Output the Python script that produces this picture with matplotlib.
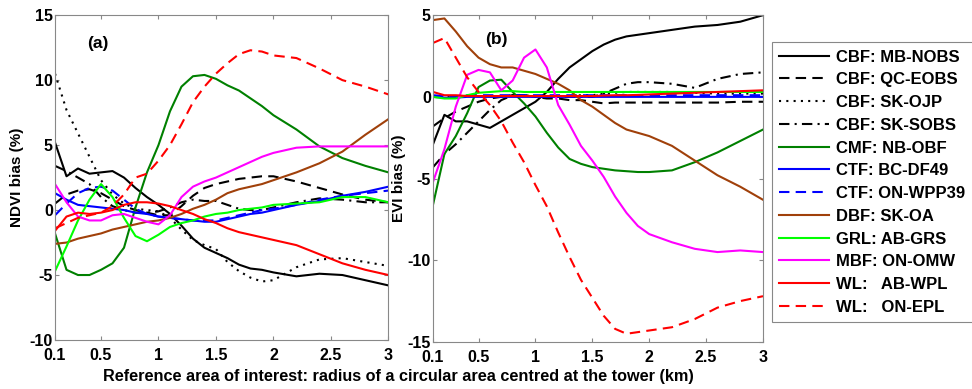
import matplotlib
matplotlib.use("Agg")
import matplotlib.pyplot as plt
import numpy as np

plt.rcParams['font.family'] = ['Liberation Sans', 'DejaVu Sans']
plt.rcParams['font.weight'] = 'bold'
plt.rcParams['axes.unicode_minus'] = False

# radius of reference area (km)
radius = [0.1, 0.2, 0.3, 0.4, 0.5, 0.6, 0.7, 0.8, 0.9, 1.0, 1.1, 1.2, 1.3,
          1.4, 1.5, 1.6, 1.7, 1.8, 1.9, 2.0, 2.2, 2.4, 2.6, 2.8, 3.0]

sites = ["CBF: MB-NOBS", "CBF: QC-EOBS", "CBF: SK-OJP", "CBF: SK-SOBS",
         "CMF: NB-OBF", "CTF: BC-DF49", "CTF: ON-WPP39", "DBF: SK-OA",
         "GRL: AB-GRS", "MBF: ON-OMW", "WL:   AB-WPL", "WL:   ON-EPL"]

# NDVI bias (%) - panel (a)
ndvi_mb_nobs = [5.2, 2.6, 3.2, 2.8, 2.9, 3.0, 2.5, 1.7, 1.0, 0.4, -0.3, -1.2, -2.2,
                -2.9, -3.3, -3.7, -4.2, -4.5, -4.6, -4.8, -5.1, -4.9, -5.0, -5.4, -5.8]
ndvi_qc_eobs = [0.5, 1.2, 1.5, 1.6, 1.3, 0.8, 0.3, 0.0, -0.2, -0.4, -0.4, 0.3, 1.1,
                1.7, 2.0, 2.2, 2.4, 2.5, 2.6, 2.6, 2.2, 1.7, 1.2, 0.8, 0.6]
ndvi_sk_ojp = [10.5, 7.7, 5.9, 4.1, 2.3, 1.2, 0.5, 0.1, 0.0, -0.1, -0.6, -1.5, -2.3,
               -2.7, -3.0, -4.0, -4.7, -5.2, -5.5, -5.4, -4.4, -3.8, -3.7, -4.0, -4.3]
ndvi_sk_sobs = [3.4, 3.0, 2.5, 2.0, 1.0, 0.3, 0.0, -0.2, -0.2, -0.1, 0.2, 0.6, 0.8,
                0.7, 0.7, 0.4, 0.1, 0.0, 0.0, 0.2, 0.6, 0.9, 0.8, 0.6, 0.6]
ndvi_nb_obf = [-1.8, -4.6, -5.0, -5.0, -4.6, -4.1, -2.9, 0.2, 2.9, 5.0, 7.6, 9.5, 10.3,
               10.4, 10.1, 9.6, 9.2, 8.6, 8.0, 7.3, 6.2, 4.9, 4.0, 3.4, 2.9]
ndvi_bc_df49 = [1.3, 0.8, 0.4, 0.3, 0.2, 0.1, 0.0, -0.2, -0.3, -0.5, -0.6, -0.7, -0.8,
                -0.9, -0.9, -0.7, -0.5, -0.3, -0.2, 0.0, 0.4, 0.7, 1.1, 1.4, 1.8]
ndvi_on_wpp39 = [-0.4, 0.5, 1.3, 1.7, 1.8, 1.5, 0.8, 0.1, -0.3, -0.5, -0.6, -0.7, -0.8,
                 -0.8, -0.8, -0.6, -0.4, -0.2, 0.0, 0.1, 0.4, 0.8, 1.1, 1.3, 1.5]
ndvi_sk_oa = [-2.6, -2.5, -2.2, -2.0, -1.8, -1.5, -1.3, -1.1, -0.9, -0.8, -0.6, -0.3, 0.1,
              0.4, 0.8, 1.3, 1.6, 1.8, 2.0, 2.3, 2.9, 3.6, 4.5, 5.8, 7.0]
ndvi_ab_grs = [-4.7, -2.8, -0.8, 0.8, 2.0, 1.0, -0.6, -2.0, -2.4, -1.9, -1.3, -1.0, -0.8,
               -0.5, -0.3, -0.2, 0.0, 0.1, 0.2, 0.4, 0.5, 0.6, 1.0, 1.0, 0.6]
ndvi_on_omw = [2.0, 0.6, -0.5, -0.8, -0.8, -0.4, -0.3, -0.6, -0.9, -1.1, -0.4, 1.0, 1.8,
               2.2, 2.5, 2.9, 3.3, 3.7, 4.1, 4.4, 4.8, 4.9, 4.9, 4.9, 4.9]
ndvi_ab_wpl = [-1.6, -0.5, -0.2, -0.3, -0.2, 0.0, 0.4, 0.6, 0.6, 0.5, 0.3, 0.0, -0.3,
               -0.7, -1.0, -1.4, -1.7, -1.9, -2.1, -2.3, -2.7, -3.4, -4.1, -4.6, -5.0]
ndvi_on_epl = [-1.4, -1.0, -0.6, -0.4, -0.2, 0.3, 1.2, 2.5, 2.8, 3.8, 5.0, 6.6, 8.3,
               9.5, 10.5, 11.3, 12.0, 12.3, 12.2, 11.9, 11.7, 10.9, 10.0, 9.5, 8.9]

# EVI bias (%) - panel (b)
evi_mb_nobs = [-2.9, -1.1, -1.5, -1.5, -1.7, -1.9, -1.5, -1.1, -0.7, -0.3, 0.3, 1.1, 1.8,
               2.3, 2.8, 3.2, 3.5, 3.7, 3.8, 3.9, 4.1, 4.3, 4.4, 4.6, 5.0]
evi_qc_eobs = [-1.8, -1.3, -0.9, -0.6, -0.3, -0.1, 0.0, 0.1, 0.1, 0.0, -0.1, -0.1, -0.2,
               -0.2, -0.3, -0.4, -0.35, -0.35, -0.35, -0.35, -0.35, -0.35, -0.35, -0.3, -0.3]
evi_sk_ojp = [0.0, 0.0, 0.05, 0.05, 0.05, 0.05, 0.05, 0.05, 0.05, 0.05, 0.05, 0.05, 0.05,
              0.1, 0.1, 0.2, 0.25, 0.3, 0.3, 0.3, 0.3, 0.25, 0.2, 0.2, 0.2]
evi_sk_sobs = [-4.3, -3.5, -2.9, -2.2, -1.5, -0.8, -0.2, 0.1, 0.1, 0.0, 0.0, 0.0, 0.0,
               0.0, 0.0, 0.2, 0.5, 0.8, 0.9, 0.9, 0.8, 0.55, 1.1, 1.4, 1.5]
evi_nb_obf = [-6.6, -3.5, -2.4, -1.0, 0.6, 1.0, 1.05, 0.3, -0.4, -1.2, -2.2, -3.1, -3.8,
              -4.1, -4.3, -4.4, -4.5, -4.55, -4.6, -4.6, -4.5, -4.0, -3.4, -2.7, -2.0]
evi_bc_df49 = [0.0, -0.05, -0.05, 0.0, 0.0, 0.0, 0.0, 0.0, 0.0, 0.0, 0.0, 0.0, 0.0,
               0.0, 0.0, 0.0, 0.0, 0.0, 0.0, 0.0, 0.0, 0.0, 0.0, 0.0, 0.0]
evi_on_wpp39 = [0.1, 0.05, 0.05, 0.1, 0.1, 0.1, 0.1, 0.1, 0.1, 0.1, 0.1, 0.1, 0.1,
                0.1, 0.1, 0.1, 0.1, 0.1, 0.1, 0.1, 0.1, 0.1, 0.1, 0.1, 0.1]
evi_sk_oa = [4.7, 4.8, 4.0, 3.1, 2.4, 2.0, 1.8, 1.8, 1.6, 1.4, 1.1, 0.8, 0.4,
             -0.2, -0.6, -1.1, -1.6, -2.0, -2.2, -2.4, -3.0, -3.9, -4.8, -5.5, -6.3]
evi_ab_grs = [0.0, -0.1, -0.1, 0.1, 0.25, 0.3, 0.35, 0.35, 0.3, 0.3, 0.3, 0.3, 0.3,
              0.3, 0.3, 0.3, 0.3, 0.3, 0.3, 0.3, 0.3, 0.3, 0.3, 0.3, 0.3]
evi_on_omw = [-5.2, -3.2, -0.6, 1.35, 1.65, 1.5, 0.4, 1.0, 2.4, 2.9, 1.8, -0.5, -1.7,
              -3.0, -3.9, -4.9, -6.1, -7.1, -7.9, -8.4, -8.9, -9.3, -9.5, -9.4, -9.5]
evi_ab_wpl = [0.3, 0.1, 0.1, 0.05, 0.05, 0.05, 0.05, 0.05, 0.05, 0.05, 0.05, 0.05, 0.05,
              0.05, 0.05, 0.08, 0.1, 0.1, 0.12, 0.15, 0.2, 0.25, 0.3, 0.35, 0.4]
evi_on_epl = [3.3, 3.6, 2.4, 1.2, 0.3, -0.5, -1.5, -2.8, -4.0, -5.4, -6.7, -8.3, -9.8,
              -11.2, -12.3, -13.4, -14.2, -14.5, -14.4, -14.3, -14.1, -13.6, -12.9, -12.5, -12.2]

ndvi = [ndvi_mb_nobs, ndvi_qc_eobs, ndvi_sk_ojp, ndvi_sk_sobs, ndvi_nb_obf, ndvi_bc_df49,
        ndvi_on_wpp39, ndvi_sk_oa, ndvi_ab_grs, ndvi_on_omw, ndvi_ab_wpl, ndvi_on_epl]
evi = [evi_mb_nobs, evi_qc_eobs, evi_sk_ojp, evi_sk_sobs, evi_nb_obf, evi_bc_df49,
       evi_on_wpp39, evi_sk_oa, evi_ab_grs, evi_on_omw, evi_ab_wpl, evi_on_epl]

# matlab-ish colours / line styles
colors = ['k', 'k', 'k', 'k', '#008000', '#0000ff', '#0000ff', '#a0400a',
          '#00ff00', '#ff00ff', '#ff0000', '#ff0000']
dash = (0, (5, 3))
dashdot = (0, (5, 2.5, 1, 2.5))
dotted = (0, (1, 2.5))
styles = ['-', dash, dotted, dashdot, '-', '-', dash, '-', '-', '-', '-', dash]

fig = plt.figure(figsize=(9.72, 3.89), dpi=100)
ax1 = fig.add_axes([0.0566, 0.126, 0.343, 0.835])
ax2 = fig.add_axes([0.4455, 0.121, 0.3395, 0.840])

handles = []
for i in range(len(sites)):
    h, = ax1.plot(radius, ndvi[i], color=colors[i], linestyle=styles[i], lw=1.5)
    ax2.plot(radius, evi[i], color=colors[i], linestyle=styles[i], lw=1.5)
    handles.append(h)

ax1.set_ylim(-10, 15)
ax1.set_yticks([-10, -5, 0, 5, 10, 15])
ax2.set_ylim(-15, 5)
ax2.set_yticks([-15, -10, -5, 0, 5])

for ax in (ax1, ax2):
    ax.set_xlim(0.1, 3)
    ax.set_xticks([0.1, 0.5, 1, 1.5, 2, 2.5, 3])
    ax.set_xticklabels(['0.1', '0.5', '1', '1.5', '2', '2.5', '3'])
    ax.tick_params(direction='in', top=True, right=True, labelsize=11.5, length=3,
                   color='#888888')
    ax.tick_params(axis='x', pad=5.5)
    ax.tick_params(axis='y', pad=1.5)
    for s in ax.spines.values():
        s.set_color('#888888')
        s.set_linewidth(0.8)
    for lab in ax.get_xticklabels() + ax.get_yticklabels():
        lab.set_fontweight('bold')

ax1.set_ylabel('NDVI bias (%)', fontsize=11, fontweight='bold', labelpad=4)
ax2.set_ylabel('EVI bias (%)', fontsize=11, fontweight='bold', labelpad=1)
ax1.text(0.47, 12.8, '(a)', fontsize=12.5, fontweight='bold', ha='center', va='center')
ax2.text(0.66, 3.5, '(b)', fontsize=12.5, fontweight='bold', ha='center', va='center')

fig.text(0.41, 0.032, 'Reference area of interest: radius of a circular area centred at the tower (km)',
         fontsize=11.7, fontweight='bold', ha='center', va='center')

leg = fig.legend(handles, sites, loc='upper left', bbox_to_anchor=(0.794, 0.892),
                 borderaxespad=0, fontsize=12, handlelength=3.0, labelspacing=0.465,
                 fancybox=False, framealpha=1, edgecolor='#888888', handletextpad=0.4,
                 borderpad=0.45)
for t in leg.get_texts():
    t.set_fontweight('bold')
leg.get_frame().set_linewidth(0.8)

fig.savefig('out.png', dpi=100)
